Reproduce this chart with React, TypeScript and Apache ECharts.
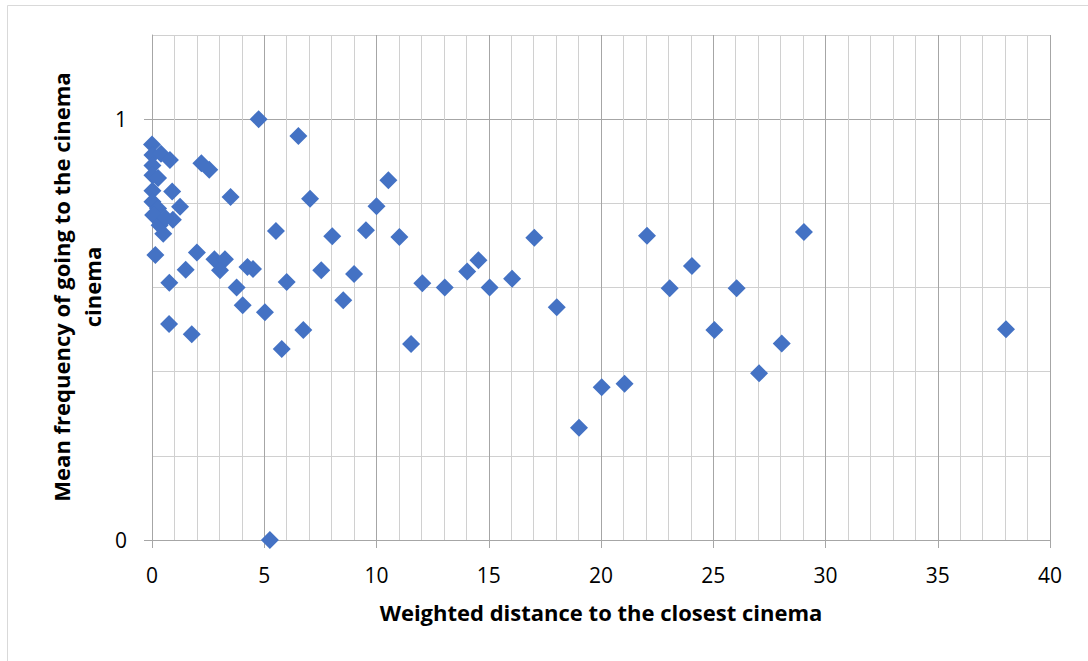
import React, { useEffect, useRef } from "react";
import * as echarts from "echarts";

const xValues: number[] = [
  0, 0.02, 0.4, 0.8, 0.02, 0.02, 0.27, 0.02, 0.9, 0.02,
  1.25, 0.27, 0.05, 0.93, 0.34, 0.5, 0.6, 0.15, 0.77, 0.76,
  1.77, 2.0, 1.5, 2.2, 2.55, 3.5, 2.78, 3.25, 3.03, 4.25,
  4.5, 3.77, 4.04, 4.75, 5.03, 5.25, 5.52, 5.78, 6.0, 6.52,
  6.74, 7.04, 7.54, 8.03, 8.52, 9.0, 9.53, 10.0, 10.53, 11.02,
  11.54, 12.04, 13.04, 14.04, 14.54, 15.04, 16.04, 17.03, 18.03, 19.02,
  20.03, 21.05, 22.05, 23.06, 24.05, 25.05, 26.04, 27.04, 28.05, 29.04,
  38.04,
];
const yValues: number[] = [
  0.94, 0.915, 0.918, 0.903, 0.89, 0.867, 0.86, 0.83, 0.828, 0.804,
  0.792, 0.788, 0.772, 0.761, 0.748, 0.728, 0.765, 0.677, 0.611, 0.513,
  0.489, 0.683, 0.642, 0.895, 0.88, 0.815, 0.667, 0.667, 0.641, 0.649,
  0.644, 0.6, 0.558, 1.0, 0.541, 0, 0.734, 0.454, 0.613, 0.96,
  0.499, 0.811, 0.641, 0.722, 0.57, 0.632, 0.736, 0.793, 0.855, 0.72,
  0.466, 0.61, 0.6, 0.638, 0.665, 0.6, 0.621, 0.718, 0.553, 0.267,
  0.363, 0.371, 0.723, 0.598, 0.651, 0.499, 0.598, 0.396, 0.467, 0.732,
  0.501,
];
const xTickLabels: number[] = [0, 5, 10, 15, 20, 25, 30, 35, 40];
const yTickLabels: number[] = [0, 1];
const xTitle = "Weighted distance to the closest cinema";
const yTitle = "Mean frequency of going to the cinema\ncinema";

const FONT = "'Open Sans', 'Noto Sans', sans-serif";
const MAJOR = "#A6A6A6";
const MINOR = "#D0D0D0";

export default function App() {
  const ref = useRef<HTMLDivElement>(null);
  useEffect(() => {
    if (!ref.current) return;
    const chart = echarts.init(ref.current, undefined, { renderer: "svg" });
    const data = xValues.map((x, i) => [x, yValues[i]]);
    chart.setOption({
      animation: false,
      backgroundColor: "#ffffff",
      grid: { left: 152, right: 38, top: 35, bottom: 121 },
      graphic: [
        {
          type: "rect",
          shape: { x: 7.5, y: 5.5, width: 1100, height: 700 },
          style: { fill: "none", stroke: "#D9D9D9", lineWidth: 1 },
          silent: true,
        },
        {
          type: "text",
          x: 76,
          y: 287,
          rotation: Math.PI / 2,
          style: {
            text: yTitle,
            font: `bold 22px ${FONT}`,
            fill: "#000000",
            align: "center",
            verticalAlign: "middle",
            lineHeight: 31,
          },
        },
      ],
      xAxis: {
        type: "value",
        min: 0,
        max: 40,
        interval: 5,
        name: xTitle,
        nameLocation: "middle",
        nameGap: 61,
        nameTextStyle: { fontFamily: FONT, fontWeight: "bold", fontSize: 22, color: "#000" },
        axisLine: { show: true, onZero: false, lineStyle: { color: MAJOR, width: 1 } },
        axisTick: { show: true, length: 8, lineStyle: { color: MAJOR } },
        axisLabel: {
          margin: 24,
          fontFamily: FONT,
          fontSize: 21,
          color: "#000",
          formatter: (v: number) => (xTickLabels.includes(v) ? String(v) : ""),
        },
        splitLine: { show: true, lineStyle: { color: MAJOR, width: 1 } },
        minorTick: { show: false, splitNumber: 5 },
        minorSplitLine: { show: true, lineStyle: { color: MINOR, width: 1 } },
      },
      yAxis: [
        {
          type: "value",
          min: 0,
          max: 1.2,
          interval: 0.2,
          axisLine: { show: true, onZero: false, lineStyle: { color: MAJOR, width: 1 } },
          axisTick: { show: false },
          axisLabel: { show: false },
          splitLine: {
            show: true,
            lineStyle: { color: [MAJOR, MINOR, MINOR, MINOR, MINOR], width: 1 },
          },
        },
        {
          type: "value",
          min: 0,
          max: 1.2,
          position: "left",
          axisLine: { show: false },
          splitLine: { show: false },
          axisTick: {
            show: true,
            length: 8,
            customValues: yTickLabels,
            lineStyle: { color: MAJOR },
          },
          axisLabel: {
            show: true,
            margin: 25,
            customValues: yTickLabels,
            fontFamily: FONT,
            fontSize: 21,
            color: "#000",
            formatter: (v: number) =>
              yTickLabels.some((t) => Math.abs(t - v) < 1e-9) ? String(v) : "",
          },
        },
      ],
      series: [
        {
          type: "scatter",
          xAxisIndex: 0,
          yAxisIndex: 0,
          symbol: "diamond",
          symbolSize: 18,
          itemStyle: { color: "#4472C4", opacity: 1 },
          data,
        },
      ],
    });
    return () => chart.dispose();
  }, []);
  return (
    <div
      ref={ref}
      style={{ position: "fixed", left: 0, top: 0, width: 1088, height: 661, background: "#fff" }}
    />
  );
}
